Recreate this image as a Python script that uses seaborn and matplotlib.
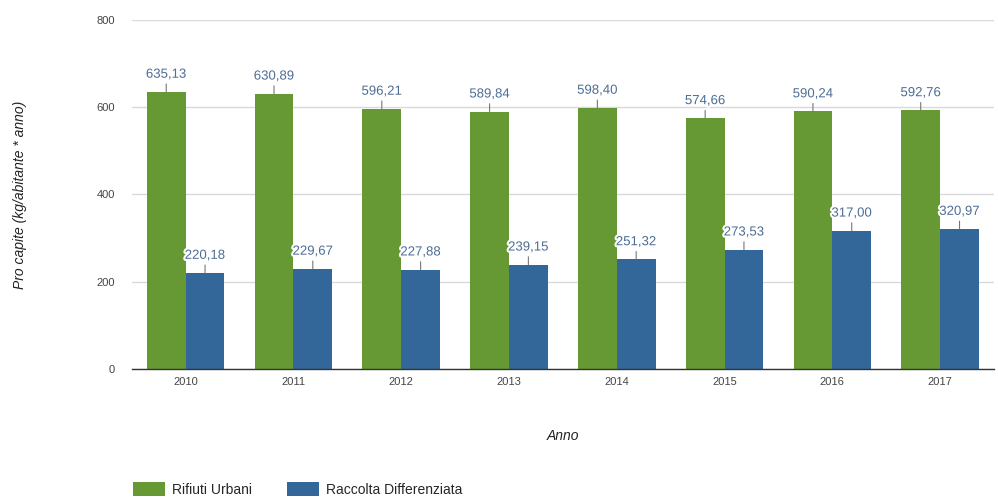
import matplotlib
matplotlib.use("Agg")
import matplotlib.pyplot as plt
import matplotlib.patheffects as pe
from matplotlib.patches import Patch
import pandas as pd
import seaborn as sns

years = ["2010", "2011", "2012", "2013", "2014", "2015", "2016", "2017"]
rifiuti_urbani = [635.13, 630.89, 596.21, 589.84, 598.40, 574.66, 590.24, 592.76]
raccolta_diff = [220.18, 229.67, 227.88, 239.15, 251.32, 273.53, 317.00, 320.97]
series_names = ["Rifiuti Urbani", "Raccolta Differenziata"]
colors = ["#669933", "#336699"]
y_ticks = [0, 200, 400, 600, 800]

df = pd.DataFrame({
    "Anno": years * 2,
    "valore": rifiuti_urbani + raccolta_diff,
    "serie": [series_names[0]] * len(years) + [series_names[1]] * len(years),
})

sns.set_theme(style="white")
plt.rcParams["font.family"] = ["Liberation Sans", "DejaVu Sans"]

fig = plt.figure(figsize=(9.98, 4.97), dpi=100)
ax = fig.add_axes([0.132, 0.2575, 0.864, 0.7025])

sns.barplot(data=df, x="Anno", y="valore", hue="serie", palette=colors,
            width=0.72, gap=0, saturation=1, ax=ax, legend=False,
            edgecolor="none", linewidth=0)

ax.set_ylim(0, 800)
ax.set_yticks(y_ticks)
ax.set_yticklabels([str(t) for t in y_ticks], fontsize=8, color="#444444")
ax.tick_params(axis="x", labelsize=8, colors="#444444", length=0, pad=6)
ax.tick_params(axis="y", length=0, pad=12)
ax.yaxis.grid(True, color="#d9d9d9", linewidth=1)
ax.set_axisbelow(True)
for s in ["top", "right", "left"]:
    ax.spines[s].set_visible(False)
ax.spines["bottom"].set_color("#333333")
ax.spines["bottom"].set_linewidth(1)

ax.set_xlabel("Anno", fontsize=10, style="italic", color="#222222", labelpad=30)
ax.set_ylabel("Pro capite (kg/abitante * anno)", fontsize=10, style="italic",
              color="#222222", labelpad=50)

# value labels with short leader lines
for cont in ax.containers:
    for bar in cont:
        h = bar.get_height()
        x = bar.get_x() + bar.get_width() / 2
        txt = f"{h:.2f}".replace(".", ",")
        ax.annotate(txt, xy=(x, h), xytext=(0, 8), textcoords="offset points",
                    ha="center", va="bottom", fontsize=9.5, color="#4d6d94",
                    path_effects=[pe.withStroke(linewidth=3, foreground="white")],
                    arrowprops=dict(arrowstyle="-", color="#777777", lw=0.8,
                                    shrinkA=0, shrinkB=0))

handles = [Patch(facecolor=c, edgecolor="none") for c in colors]
fig.legend(handles, series_names, loc="lower left", bbox_to_anchor=(0.121, -0.025),
           ncol=2, frameon=False, fontsize=10, handlelength=2.3, handleheight=1.2,
           columnspacing=2.5, handletextpad=0.5)

fig.savefig("out.png", dpi=100)
